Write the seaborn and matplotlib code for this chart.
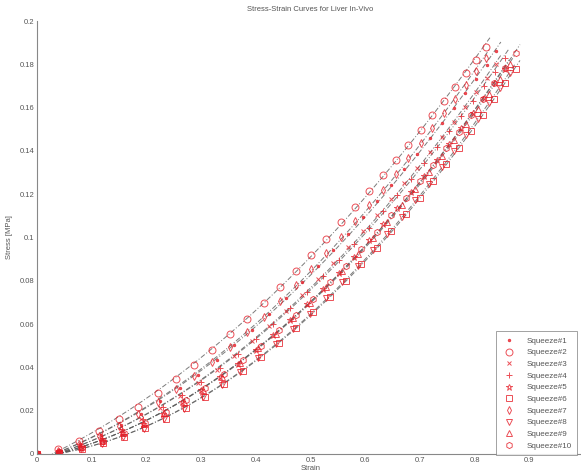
import numpy as np
import matplotlib
matplotlib.use("Agg")
import matplotlib.pyplot as plt
import seaborn as sns

# ---------------- data ----------------
labels = ["Squeeze#1", "Squeeze#2", "Squeeze#3", "Squeeze#4", "Squeeze#5",
          "Squeeze#6", "Squeeze#7", "Squeeze#8", "Squeeze#9", "Squeeze#10"]

# strain samples (several squeezes were sampled on the same strain steps)
strain_a = [0, 0.0385, 0.0763, 0.1134, 0.1497, 0.1854, 0.2203, 0.2544, 0.2878, 0.3205, 0.3524,
            0.3837, 0.4142, 0.4439, 0.4730, 0.5013, 0.5288, 0.5556, 0.5817, 0.6071, 0.6317,
            0.6556, 0.6788, 0.7012, 0.7229, 0.7439, 0.7642, 0.7837, 0.8025, 0.82]
strain_b = [0, 0.0395, 0.0782, 0.1162, 0.1534, 0.1899, 0.2256, 0.2607, 0.2948, 0.3284, 0.3610,
            0.3930, 0.4243, 0.4548, 0.4845, 0.5135, 0.5417, 0.5692, 0.5959, 0.6219, 0.6471,
            0.6716, 0.6954, 0.7183, 0.7405, 0.7620, 0.7828, 0.8028, 0.8220, 0.84]
strain_c = [0, 0.0402, 0.0796, 0.1182, 0.1561, 0.1933, 0.2297, 0.2653, 0.3001, 0.3342, 0.3675,
            0.4001, 0.4319, 0.4629, 0.4932, 0.5227, 0.5514, 0.5793, 0.6065, 0.6330, 0.6587,
            0.6836, 0.7078, 0.7311, 0.7538, 0.7757, 0.7968, 0.8171, 0.8367, 0.855]
strain_d = [0, 0.0407, 0.0805, 0.1196, 0.1579, 0.1956, 0.2323, 0.2684, 0.3036, 0.3381, 0.3718,
            0.4047, 0.4369, 0.4683, 0.4989, 0.5288, 0.5578, 0.5861, 0.6136, 0.6404, 0.6664,
            0.6916, 0.7160, 0.7397, 0.7626, 0.7847, 0.8061, 0.8267, 0.8465, 0.865]
strain_e = [0, 0.0411, 0.0815, 0.1210, 0.1598, 0.1978, 0.2350, 0.2715, 0.3071, 0.3420, 0.3761,
            0.4094, 0.4420, 0.4737, 0.5047, 0.5349, 0.5643, 0.5929, 0.6207, 0.6479, 0.6741,
            0.6996, 0.7243, 0.7482, 0.7714, 0.7938, 0.8154, 0.8362, 0.8563, 0.875]

stress1 = [0, 0.00163, 0.00469, 0.00867, 0.01333, 0.01857, 0.02425, 0.03032, 0.03670, 0.04337,
           0.05025, 0.05731, 0.06453, 0.07186, 0.07928, 0.08673, 0.09425, 0.10174, 0.10925,
           0.11673, 0.12416, 0.13148, 0.13876, 0.14593, 0.15300, 0.15993, 0.16674, 0.17339,
           0.17987, 0.186]
stress2 = [0, 0.00223, 0.00601, 0.01067, 0.01597, 0.02177, 0.02795, 0.03446, 0.04119, 0.04816,
           0.05526, 0.06250, 0.06983, 0.07723, 0.08466, 0.09209, 0.09953, 0.10693, 0.11428,
           0.12158, 0.12880, 0.13590, 0.14293, 0.14984, 0.15661, 0.16324, 0.16974, 0.17605,
           0.18221, 0.188]
stress3 = [0, 0.00123, 0.00376, 0.00716, 0.01126, 0.01595, 0.02112, 0.02672, 0.03267, 0.03893,
           0.04545, 0.05219, 0.05912, 0.06620, 0.07342, 0.08069, 0.08806, 0.09545, 0.10286,
           0.11027, 0.11767, 0.12498, 0.13227, 0.13947, 0.14658, 0.15357, 0.16046, 0.16719,
           0.17377, 0.180]
stress4 = [0, 0.00125, 0.00382, 0.00728, 0.01145, 0.01622, 0.02148, 0.02717, 0.03321, 0.03958,
           0.04621, 0.05306, 0.06011, 0.06731, 0.07464, 0.08204, 0.08953, 0.09704, 0.10457,
           0.11211, 0.11963, 0.12706, 0.13448, 0.14180, 0.14902, 0.15613, 0.16314, 0.16998,
           0.17667, 0.183]
stress5 = [0, 0.00093, 0.00300, 0.00592, 0.00956, 0.01380, 0.01856, 0.02379, 0.02940, 0.03538,
           0.04165, 0.04821, 0.05498, 0.06195, 0.06910, 0.07634, 0.08371, 0.09114, 0.09862,
           0.10614, 0.11366, 0.12113, 0.12860, 0.13599, 0.14332, 0.15055, 0.15767, 0.16466,
           0.17150, 0.178]
stress6 = [0, 0.00068, 0.00237, 0.00486, 0.00806, 0.01189, 0.01627, 0.02116, 0.02648, 0.03221,
           0.03828, 0.04468, 0.05135, 0.05826, 0.06539, 0.07267, 0.08012, 0.08766, 0.09530,
           0.10299, 0.11073, 0.11845, 0.12619, 0.13389, 0.14153, 0.14908, 0.15657, 0.16392,
           0.17114, 0.178]
stress7 = [0, 0.00160, 0.00462, 0.00853, 0.01312, 0.01827, 0.02385, 0.02983, 0.03611, 0.04267,
           0.04944, 0.05639, 0.06348, 0.07070, 0.07800, 0.08533, 0.09273, 0.10010, 0.10749,
           0.11485, 0.12215, 0.12936, 0.13652, 0.14358, 0.15053, 0.15735, 0.16405, 0.17059,
           0.17697, 0.183]
stress8 = [0, 0.00067, 0.00234, 0.00481, 0.00797, 0.01176, 0.01609, 0.02092, 0.02618, 0.03185,
           0.03785, 0.04418, 0.05078, 0.05761, 0.06466, 0.07186, 0.07922, 0.08668, 0.09423,
           0.10184, 0.10948, 0.11712, 0.12477, 0.13238, 0.13994, 0.14741, 0.15481, 0.16208,
           0.16922, 0.176]
stress9 = [0, 0.00094, 0.00303, 0.00599, 0.00966, 0.01396, 0.01877, 0.02405, 0.02973, 0.03578,
           0.04212, 0.04875, 0.05560, 0.06265, 0.06987, 0.07720, 0.08465, 0.09216, 0.09973,
           0.10734, 0.11493, 0.12249, 0.13004, 0.13752, 0.14493, 0.15224, 0.15944, 0.16651,
           0.17343, 0.180]
stress10 = [0, 0.00096, 0.00312, 0.00616, 0.00993, 0.01434, 0.01929, 0.02472, 0.03056, 0.03677,
            0.04329, 0.05010, 0.05714, 0.06439, 0.07181, 0.07934, 0.08700, 0.09472, 0.10250,
            0.11032, 0.11813, 0.12590, 0.13365, 0.14134, 0.14896, 0.15647, 0.16387, 0.17114,
            0.17825, 0.185]

strains = [strain_b, strain_a, strain_b, strain_c, strain_c,
           strain_e, strain_a, strain_d, strain_d, strain_e]
stresses = [stress1, stress2, stress3, stress4, stress5,
            stress6, stress7, stress8, stress9, stress10]

x_ticks = [0, 0.1, 0.2, 0.3, 0.4, 0.5, 0.6, 0.7, 0.8, 0.9]
x_ticklabels = ["0", "0.1", "0.2", "0.3", "0.4", "0.5", "0.6", "0.7", "0.8", "0.9"]
y_ticks = [0, 0.02, 0.04, 0.06, 0.08, 0.1, 0.12, 0.14, 0.16, 0.18, 0.2]
y_ticklabels = ["0", "0.02", "0.04", "0.06", "0.08", "0.1", "0.12", "0.14", "0.16", "0.18", "0.2"]

# ---------------- style ----------------
markers = [".", "o", "x", "+", "*", "s", "d", "v", "^", "h"]
msizes = [3.5, 5, 3.5, 4.5, 4.5, 4.5, 4, 4.5, 4.5, 4.5]
filled = [True, False, False, False, False, False, False, False, False, False]
red = "#e61e28"
txt = "#555555"

sns.set_style("white")
plt.rcParams["font.family"] = ["Liberation Sans", "DejaVu Sans"]

fig = plt.figure(figsize=(5.81, 4.75), dpi=100)
ax = fig.add_axes([37 / 581, 21 / 475, 547 / 581, 433 / 475])

handles = []
for i in range(10):
    xs = np.array(strains[i])
    ys = np.array(stresses[i])
    # dash-dot fitted curve (least-squares fit of the series itself)
    coef = np.polyfit(xs, ys, 2)
    xf = np.linspace(0, xs.max() + 0.008, 60)
    yf = np.polyval(coef, xf)
    sns.lineplot(x=xf, y=yf, ax=ax, color="#5a5a5a", linestyle=(0, (5, 2, 1, 2)),
                 linewidth=0.7, alpha=0.8, sort=False, estimator=None, legend=False)

for i in range(10):
    xs = np.array(strains[i])
    ys = np.array(stresses[i])
    kw = dict(marker=markers[i], markersize=msizes[i], linestyle="none", color=red,
              markeredgecolor=red, markeredgewidth=0.7, alpha=0.78)
    kw["markerfacecolor"] = red if filled[i] else "none"
    sns.lineplot(x=xs, y=ys, ax=ax, sort=False, estimator=None, legend=False, **kw)
    handles.append(ax.lines[-1])

ax.set_xlim(0, 1.0)
ax.set_ylim(0, 0.2)
ax.set_xticks(x_ticks)
ax.set_xticklabels(x_ticklabels)
ax.set_yticks(y_ticks)
ax.set_yticklabels(y_ticklabels)
ax.tick_params(direction="in", length=4, width=0.6, colors="#777777", labelsize=5.5,
               labelcolor=txt, pad=2)
for s in ["top", "right"]:
    ax.spines[s].set_visible(False)
for s in ["left", "bottom"]:
    ax.spines[s].set_color("#888888")
    ax.spines[s].set_linewidth(0.8)

ax.set_title("Stress-Strain Curves for Liver In-Vivo", fontsize=5.5, color=txt, pad=7)
ax.set_xlabel("Strain", fontsize=5.5, color=txt, labelpad=1)
ax.set_ylabel("Stress [MPa]", fontsize=5.5, color=txt, labelpad=5)

leg = ax.legend(handles, labels, loc="lower right", bbox_to_anchor=(0.9875, -0.003),
                fontsize=5.8, frameon=True, fancybox=False, borderpad=0.7,
                labelspacing=0.5, handlelength=2.0, handletextpad=1.1, borderaxespad=0)
leg.get_frame().set_edgecolor("#777777")
leg.get_frame().set_linewidth(0.6)
for t in leg.get_texts():
    t.set_color(txt)

fig.savefig("out.png", dpi=100)
